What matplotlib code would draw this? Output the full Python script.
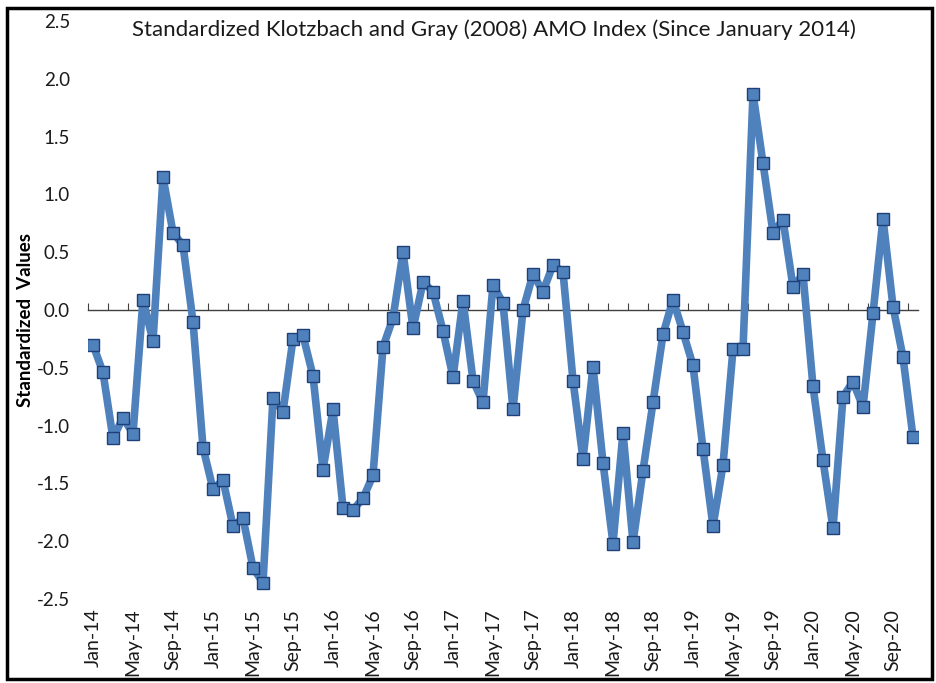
import numpy as np
import matplotlib
matplotlib.use('Agg')
import matplotlib.pyplot as plt
from matplotlib.patches import Rectangle

plt.rcParams['font.family'] = ['Lato', 'DejaVu Sans']

# indice AMO estandarizado, mensual desde Jan-14 hasta Nov-20
meses = ['Jan', 'Feb', 'Mar', 'Apr', 'May', 'Jun', 'Jul', 'Aug', 'Sep', 'Oct', 'Nov', 'Dec']
anios = ['14', '15', '16', '17', '18', '19', '20']
etiquetas = [f'{m}-{a}' for a in anios for m in meses][:83]

amo = [
    -0.30, -0.54, -1.11, -0.93, -1.07, 0.09, -0.27, 1.15, 0.67, 0.56, -0.10, -1.19,   # 2014
    -1.55, -1.47, -1.87, -1.80, -2.23, -2.36, -0.76, -0.88, -0.25, -0.22, -0.57, -1.38,  # 2015
    -0.86, -1.71, -1.73, -1.63, -1.43, -0.32, -0.07, 0.50, -0.16, 0.24, 0.16, -0.18,  # 2016
    -0.58, 0.08, -0.61, -0.80, 0.22, 0.06, -0.86, 0.00, 0.31, 0.16, 0.39, 0.33,   # 2017
    -0.61, -1.29, -0.49, -1.32, -2.02, -1.06, -2.01, -1.39, -0.80, -0.21, 0.09, -0.19,  # 2018
    -0.48, -1.20, -1.87, -1.34, -0.34, -0.34, 1.87, 1.27, 0.67, 0.78, 0.20, 0.31,   # 2019
    -0.66, -1.30, -1.89, -0.75, -0.62, -0.84, -0.03, 0.79, 0.03, -0.41, -1.10,      # 2020
]

n = len(amo)
x = np.arange(n)

fig = plt.figure(figsize=(9.36, 6.83), dpi=100)
ax = fig.add_axes([88 / 936, 1 - 599 / 683, 830 / 936, 578 / 683])

ax.plot(x, amo, color='#4F81BD', lw=5.5, marker='s', ms=9,
        mfc='#4F81BD', mec='#1F3F77', mew=1.0, solid_joinstyle='round',
        solid_capstyle='round', zorder=3)

ax.set_xlim(-0.5, n - 0.5)
ax.set_ylim(-2.5, 2.5)
ax.set_yticks(np.arange(-2.5, 2.51, 0.5))
ax.set_yticklabels([f'{v:.1f}' for v in np.arange(-2.5, 2.51, 0.5)])
ax.tick_params(axis='y', length=0, pad=13, labelsize=13.5, labelcolor='#1a1a1a')

# eje horizontal en cero con marcas cada 2 meses
for s in ['top', 'right', 'left']:
    ax.spines[s].set_visible(False)
ax.spines['bottom'].set_position(('data', 0))
ax.spines['bottom'].set_color('#404040')
ax.spines['bottom'].set_linewidth(1.0)
ax.set_xticks(np.arange(-0.5, n, 2))
ax.tick_params(axis='x', direction='in', length=5, color='#404040', labelbottom=False)

# etiquetas de meses abajo del area
sec = ax.secondary_xaxis(0)
sec.set_xticks(x[::4], labels=etiquetas[::4], rotation=90)
sec.tick_params(length=0, pad=7, labelsize=14, labelcolor='#1a1a1a')
sec.spines['bottom'].set_visible(False)

ax.set_ylabel('Standardized  Values', fontsize=13.5, fontweight='bold')
ax.yaxis.label.set_va('center')
ax.yaxis.set_label_coords(-0.075, 0.483)

fig.text(494 / 936, 1 - 30 / 683,
         'Standardized Klotzbach and Gray (2008) AMO Index (Since January 2014)',
         ha='center', va='center', fontsize=16, color='#1a1a1a')

# marco negro alrededor de la figura
fig.patches.append(Rectangle((7 / 936, 4 / 683), 925 / 936, 671 / 683,
                             transform=fig.transFigure, fill=False,
                             edgecolor='black', lw=2.5))

fig.savefig('out.png', dpi=100)
